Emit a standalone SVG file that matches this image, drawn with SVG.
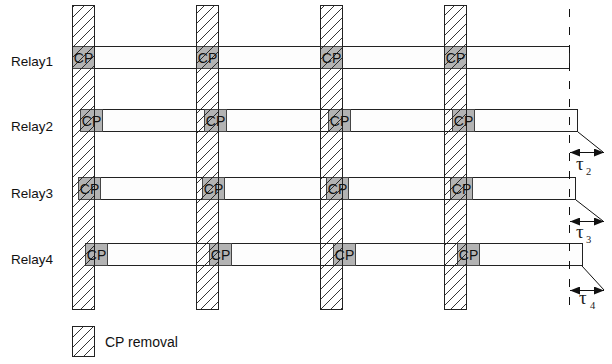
<svg xmlns="http://www.w3.org/2000/svg" width="612" height="364" viewBox="0 0 612 364">
<style>
.bar{fill:#fdfdfd;stroke:#222;stroke-width:1}
.cp{fill:#b3b3b3;stroke:#444;stroke-width:1}
.col{fill:url(#hatch);stroke:#222;stroke-width:1}
.lbl{font-family:"Liberation Sans",Arial,sans-serif;font-size:13.5px;fill:#111}
.cpt{font-family:"Liberation Sans",Arial,sans-serif;font-size:14px;fill:#111;text-anchor:middle}
.tau{font-family:"Liberation Serif","Times New Roman",serif;font-size:19px;fill:#222}
.sub{font-family:"Liberation Serif","Times New Roman",serif;font-size:10.5px;fill:#222}
.ln{stroke:#111;stroke-width:1;fill:none}
</style>
<defs>
<pattern id="hatch" patternUnits="userSpaceOnUse" width="10" height="10">
<path d="M-1,11 L11,-1 M-1,1 L1,-1 M9,11 L11,9" stroke="#111" stroke-width="0.85"/>
</pattern>
<marker id="ah" viewBox="0 0 10 8" refX="10" refY="4" markerWidth="10" markerHeight="8" markerUnits="userSpaceOnUse" orient="auto-start-reverse">
<path d="M0,0 L10,4 L0,8 z" fill="#111"/>
</marker>
</defs>

<g id="relay1">
<text class="lbl" x="11" y="66">Relay1</text>
<rect class="bar" x="72.5" y="46.5" width="497" height="22"/>
<rect class="cp" x="72.5" y="46.5" width="22" height="22"/>
<rect class="cp" x="196.5" y="46.5" width="22" height="22"/>
<rect class="cp" x="320.5" y="46.5" width="22" height="22"/>
<rect class="cp" x="444.5" y="46.5" width="22" height="22"/>
</g>
<g id="relay2">
<text class="lbl" x="11" y="131">Relay2</text>
<rect class="bar" x="80.5" y="109.5" width="497" height="22"/>
<rect class="cp" x="80.5" y="109.5" width="22" height="22"/>
<rect class="cp" x="204.5" y="109.5" width="22" height="22"/>
<rect class="cp" x="328.5" y="109.5" width="22" height="22"/>
<rect class="cp" x="452.5" y="109.5" width="22" height="22"/>
</g>
<g id="relay3">
<text class="lbl" x="11" y="198">Relay3</text>
<rect class="bar" x="78.5" y="177.5" width="497" height="22"/>
<rect class="cp" x="78.5" y="177.5" width="22" height="22"/>
<rect class="cp" x="202.5" y="177.5" width="22" height="22"/>
<rect class="cp" x="326.5" y="177.5" width="22" height="22"/>
<rect class="cp" x="450.5" y="177.5" width="22" height="22"/>
</g>
<g id="relay4">
<text class="lbl" x="11" y="264">Relay4</text>
<rect class="bar" x="85.5" y="243.5" width="497" height="22"/>
<rect class="cp" x="85.5" y="243.5" width="22" height="22"/>
<rect class="cp" x="209.5" y="243.5" width="22" height="22"/>
<rect class="cp" x="333.5" y="243.5" width="22" height="22"/>
<rect class="cp" x="457.5" y="243.5" width="22" height="22"/>
</g>

<g id="cp-removal-columns">
<rect class="col" x="72.5" y="5.5" width="22" height="304"/>
<rect class="col" x="196.5" y="5.5" width="22" height="304"/>
<rect class="col" x="320.5" y="5.5" width="22" height="304"/>
<rect class="col" x="444.5" y="5.5" width="22" height="304"/>
</g>

<g id="cp-labels">
<text class="cpt" x="83.5" y="63">CP</text>
<text class="cpt" x="207.5" y="63">CP</text>
<text class="cpt" x="331.5" y="63">CP</text>
<text class="cpt" x="455.5" y="63">CP</text>
<text class="cpt" x="91.5" y="126">CP</text>
<text class="cpt" x="215.5" y="126">CP</text>
<text class="cpt" x="339.5" y="126">CP</text>
<text class="cpt" x="463.5" y="126">CP</text>
<text class="cpt" x="89.5" y="194">CP</text>
<text class="cpt" x="213.5" y="194">CP</text>
<text class="cpt" x="337.5" y="194">CP</text>
<text class="cpt" x="461.5" y="194">CP</text>
<text class="cpt" x="96.5" y="260">CP</text>
<text class="cpt" x="220.5" y="260">CP</text>
<text class="cpt" x="344.5" y="260">CP</text>
<text class="cpt" x="468.5" y="260">CP</text>
</g>

<g id="connectors">
<line class="ln" x1="569.5" y1="9" x2="569.5" y2="310" stroke-dasharray="8,10"/>
<line class="ln" x1="578" y1="132" x2="603" y2="152"/>
<line class="ln" x1="576" y1="200" x2="603" y2="221"/>
<line class="ln" x1="582" y1="266" x2="604" y2="290"/>
<line class="ln" x1="570" y1="152.5" x2="604" y2="152.5" marker-start="url(#ah)" marker-end="url(#ah)"/>
<line class="ln" x1="570" y1="221.5" x2="604" y2="221.5" marker-start="url(#ah)" marker-end="url(#ah)"/>
<line class="ln" x1="570" y1="290.5" x2="604" y2="290.5" marker-start="url(#ah)" marker-end="url(#ah)"/>
</g>

<g id="delay-labels">
<text class="tau" x="576" y="170">τ</text><text class="sub" x="586" y="175">2</text>
<text class="tau" x="576" y="238">τ</text><text class="sub" x="586" y="243">3</text>
<text class="tau" x="579" y="304">τ</text><text class="sub" x="590" y="309">4</text>
</g>

<g id="legend">
<rect class="col" x="72.5" y="326.5" width="22" height="30"/>
<text class="lbl" x="105" y="347" style="font-size:14px">CP removal</text>
</g>
</svg>
